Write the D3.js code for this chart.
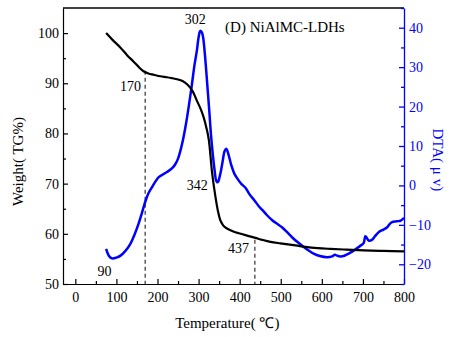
<!DOCTYPE html>
<html>
<head>
<meta charset="utf-8">
<script src="https://cdn.jsdelivr.net/npm/d3@7"></script>
<style>
  body { margin: 0; background: #fff; }
  svg text { font-family: "Liberation Serif", "Times New Roman", serif; }
</style>
</head>
<body>
<div id="chart"></div>
<script>
// TG curve (weight %)
var tgTemp   = [75, 90, 110, 126, 142, 155, 166, 178, 191, 207, 223, 236, 248, 262, 272, 285, 296, 305, 312, 320, 325, 333, 341, 347, 353, 359, 365, 375, 386, 398, 420, 438, 455, 475, 499, 536, 560, 590, 621, 660, 702, 750, 800];
var tgWeight = [100, 98.7, 97.1, 95.6, 94.3, 93.2, 92.4, 91.95, 91.7, 91.4, 91.2, 91.0, 90.8, 90.4, 89.8, 88.5, 86.5, 84.9, 83.3, 80.8, 78.7, 72.1, 67.4, 64.6, 62.7, 61.8, 61.3, 60.8, 60.4, 60.1, 59.6, 59.2, 58.8, 58.4, 58.1, 57.7, 57.4, 57.15, 57.0, 56.85, 56.7, 56.6, 56.5];

// DTA curve (uV)
var dtaTemp  = [75, 82, 89, 100, 110, 122, 134, 144, 154, 162, 170, 178, 187, 203, 223, 237, 244, 250, 256, 262, 268, 276, 284, 290, 296, 300, 304, 308, 311, 316, 321, 326, 330, 335, 339, 342, 345, 348, 351, 355, 359, 363, 367, 370, 374, 380, 387, 394, 404, 414, 425, 436, 446, 455, 466, 480, 492, 503, 515, 528, 540, 556, 568, 580, 595, 613, 625, 632, 637, 645, 653, 663, 674, 686, 698, 702, 706, 710, 714, 722, 730, 739, 750, 759, 765, 771, 783, 792, 800];
var dtaValue = [-16.1, -17.9, -18.5, -18.3, -17.8, -16.6, -14.8, -12.5, -9.7, -7.0, -4.2, -2.0, -0.4, 2.1, 3.4, 4.5, 5.5, 6.8, 8.9, 11.5, 14.8, 20.0, 25.8, 30.5, 34.3, 37.5, 39.2, 38.8, 37.6, 32.5, 25.8, 19.0, 13.1, 7.5, 3.8, 1.5, 0.8, 1.0, 2.1, 4.0, 6.4, 8.6, 9.3, 8.8, 7.4, 5.0, 3.0, 1.8, 0.4, -0.6, -2.4, -3.8, -5.2, -6.2, -7.5, -8.9, -9.8, -10.6, -11.8, -13.2, -14.3, -15.6, -16.5, -17.3, -17.9, -18.2, -18.0, -17.6, -17.8, -18.0, -17.9, -17.4, -16.8, -15.9, -15.0, -14.6, -12.9, -13.4, -14.0, -13.8, -12.8, -11.8, -11.2, -10.6, -9.8, -9.3, -9.1, -8.9, -8.2];

// tick values
var xTicks = [0, 100, 200, 300, 400, 500, 600, 700, 800];
var xMinor = [50, 150, 250, 350, 450, 550, 650, 750];
var tgTicks = [50, 60, 70, 80, 90, 100];
var tgMinor = [55, 65, 75, 85, 95];
var dtaTicks = [-20, -10, 0, 10, 20, 30, 40];
var dtaMinor = [-25, -15, -5, 5, 15, 25, 35, 45];

// dashed markers: [temperature, weight where the dash starts]
var markers = [[170, 92.5], [437, 58.8]];
// annotation labels, placed in temperature / weight units
var peakLabels = [
  {text: "302", t: 292, tg: 101.8},
  {text: "170", t: 134, tg: 88.4},
  {text: "342", t: 297, tg: 68.8},
  {text: "437", t: 397, tg: 56.2},
  {text: "90",  t: 71,  tg: 51.6}
];

var serif = "'Liberation Serif', 'Times New Roman', serif";

var W = 458, H = 337;
var margin = {top: 8, right: 54, bottom: 53, left: 63};
var width = W - margin.left - margin.right,
    height = H - margin.top - margin.bottom;

var svg = d3.select("#chart").append("svg")
    .attr("width", W)
    .attr("height", H)
  .append("g")
    .attr("transform", "translate(" + margin.left + "," + margin.top + ")");

var x = d3.scaleLinear().domain([-30, 800]).range([0, width]);
var yTG = d3.scaleLinear().domain([50, 105]).range([height, 0]);
var yDTA = d3.scaleLinear().domain([-25, 45]).range([height, 0]);

// frame top
svg.append("line")
    .attr("x1", 0).attr("x2", width)
    .attr("y1", 0).attr("y2", 0)
    .attr("stroke", "#000").attr("stroke-width", 1.3);

// bottom axis
var gx = svg.append("g")
    .attr("transform", "translate(0," + height + ")")
    .call(d3.axisBottom(x).tickValues(xTicks).tickSize(-5).tickSizeOuter(0).tickPadding(8));
var gxm = svg.append("g")
    .attr("transform", "translate(0," + height + ")")
    .call(d3.axisBottom(x).tickValues(xMinor).tickSize(-3).tickSizeOuter(0).tickFormat(""));
gxm.select(".domain").remove();

// left axis
var gy = svg.append("g")
    .call(d3.axisLeft(yTG).tickValues(tgTicks).tickSize(-5).tickSizeOuter(0).tickPadding(4));
var gym = svg.append("g")
    .call(d3.axisLeft(yTG).tickValues(tgMinor).tickSize(-3).tickSizeOuter(0).tickFormat(""));
gym.select(".domain").remove();

// right axis (blue)
var gr = svg.append("g")
    .attr("transform", "translate(" + width + ",0)")
    .call(d3.axisRight(yDTA).tickValues(dtaTicks).tickSize(-5).tickSizeOuter(0).tickPadding(5));
var grm = svg.append("g")
    .attr("transform", "translate(" + width + ",0)")
    .call(d3.axisRight(yDTA).tickValues(dtaMinor).tickSize(-3).tickSizeOuter(0).tickFormat(""));
grm.select(".domain").remove();

[gx, gxm, gy, gym].forEach(function(g) {
  g.attr("font-family", serif);
  g.selectAll("text").attr("font-size", "14px").attr("fill", "#000").style("font-family", serif);
  g.selectAll("line, path").attr("stroke", "#000").attr("stroke-width", 1.2);
});
[gr, grm].forEach(function(g) {
  g.attr("font-family", serif);
  g.selectAll("text").attr("font-size", "14px").attr("fill", "#0000ff").style("font-family", serif);
  g.selectAll("line, path").attr("stroke", "#0000ff").attr("stroke-width", 1.3);
});

// dashed marker lines
svg.selectAll("line.marker")
    .data(markers)
    .enter()
    .append("line")
    .attr("class", "marker")
    .attr("x1", function(d) { return x(d[0]); })
    .attr("x2", function(d) { return x(d[0]); })
    .attr("y1", function(d) { return yTG(d[1]); })
    .attr("y2", height)
    .attr("stroke", "#333")
    .attr("stroke-width", 1.2)
    .attr("stroke-dasharray", "4,3");

// DTA line
var dtaData = dtaTemp.map(function(t, i) { return {t: t, v: dtaValue[i]}; });
svg.append("path")
    .datum(dtaData)
    .attr("fill", "none")
    .attr("stroke", "#0000ff")
    .attr("stroke-width", 2.5)
    .attr("stroke-linejoin", "round")
    .attr("d", d3.line()
        .curve(d3.curveCatmullRom)
        .x(function(d) { return x(d.t); })
        .y(function(d) { return yDTA(d.v); }));

// TG line
var tgData = tgTemp.map(function(t, i) { return {t: t, w: tgWeight[i]}; });
svg.append("path")
    .datum(tgData)
    .attr("fill", "none")
    .attr("stroke", "#000")
    .attr("stroke-width", 2.2)
    .attr("stroke-linejoin", "round")
    .attr("d", d3.line()
        .curve(d3.curveCatmullRom)
        .x(function(d) { return x(d.t); })
        .y(function(d) { return yTG(d.w); }));

// peak / temperature labels
svg.selectAll("text.peak")
    .data(peakLabels)
    .enter()
    .append("text")
    .attr("class", "peak")
    .attr("x", function(d) { return x(d.t); })
    .attr("y", function(d) { return yTG(d.tg); })
    .attr("text-anchor", "middle")
    .attr("font-size", "14px")
    .attr("fill", "#000")
    .text(function(d) { return d.text; });

// sample title
svg.append("text")
    .attr("x", x(510))
    .attr("y", 24)
    .attr("text-anchor", "middle")
    .attr("font-size", "15px")
    .text("(D) NiAlMC-LDHs");

// axis titles
svg.append("text")
    .attr("x", x(370))
    .attr("y", height + 44)
    .attr("text-anchor", "middle")
    .attr("font-size", "15px")
    .text("Temperature(  \u2103)");

svg.append("text")
    .attr("transform", "translate(" + (-40) + "," + (yTG(74.4)) + ") rotate(-90)")
    .attr("text-anchor", "middle")
    .attr("font-size", "15px")
    .text("Weight(  TG%)");

svg.append("text")
    .attr("transform", "translate(" + (width + 29) + "," + (yDTA(6.5)) + ") rotate(90)")
    .attr("text-anchor", "middle")
    .attr("font-size", "15px")
    .attr("fill", "#0000ff")
    .text("DTA(  \u03bc v)");
</script>
</body>
</html>
